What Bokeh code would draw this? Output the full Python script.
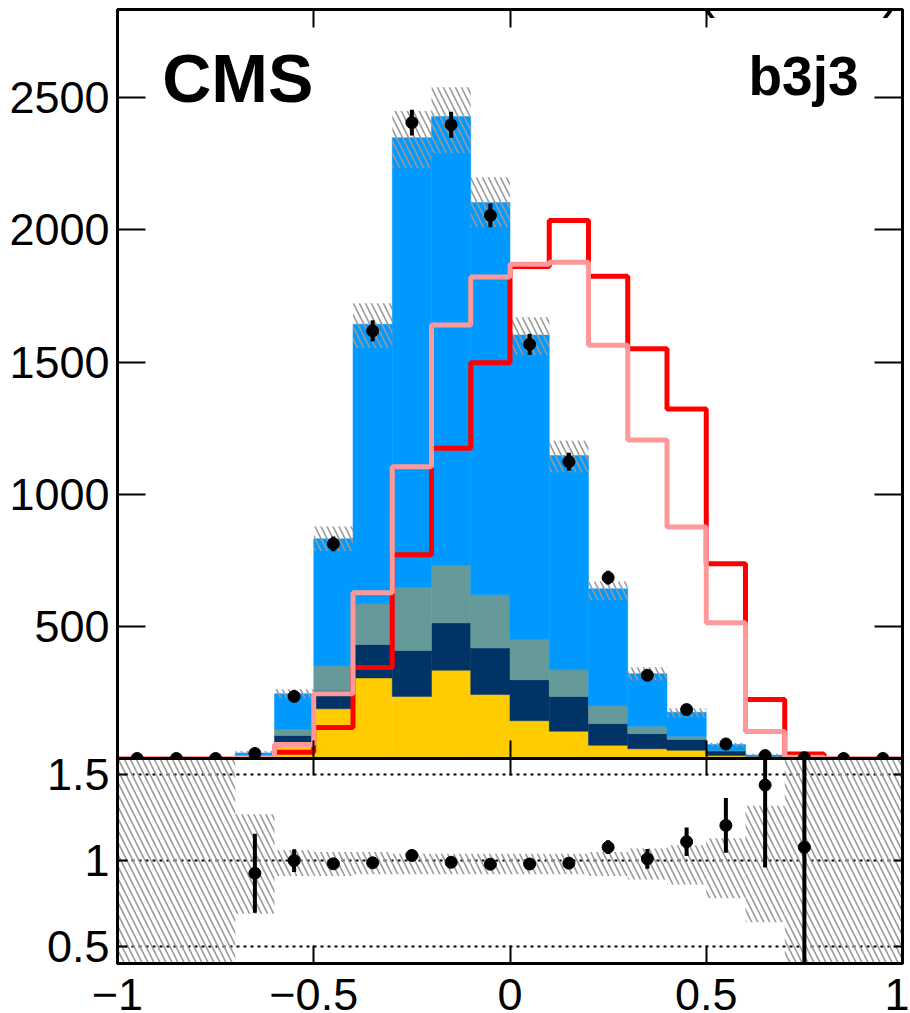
from bokeh.plotting import figure
from bokeh.models import ColumnDataSource, LinearAxis, FixedTicker, Range1d, Label
from bokeh.layouts import column
from bokeh.embed import file_html
from bokeh.resources import INLINE

# ---------------- data ----------------
bin_edges = [-1.0, -0.9, -0.8, -0.7, -0.6, -0.5, -0.4, -0.3, -0.2, -0.1, 0.0,
             0.1, 0.2, 0.3, 0.4, 0.5, 0.6, 0.7, 0.8, 0.9, 1.0]
bin_centers = [-0.95, -0.85, -0.75, -0.65, -0.55, -0.45, -0.35, -0.25, -0.15, -0.05,
               0.05, 0.15, 0.25, 0.35, 0.45, 0.55, 0.65, 0.75, 0.85, 0.95]

# stacked backgrounds, bottom to top
bkg_yellow = [0, 0, 0, 4, 50, 188, 305, 235, 334, 242, 143, 103, 50, 37, 31, 11, 4, 0, 0, 0]
bkg_navy = [0, 0, 0, 3, 37, 69, 126, 174, 179, 176, 155, 132, 82, 57, 41, 17, 3, 0, 0, 0]
bkg_teal = [0, 0, 0, 3, 25, 94, 155, 238, 219, 202, 154, 101, 68, 28, 12, 3, 2, 0, 0, 0]
bkg_blue = [0, 0, 0, 11, 133, 480, 1057, 1702, 1697, 1484, 1150, 810, 442, 199, 91, 22, 4, 1, 0, 0]

# MC uncertainty band (upper panel)
band_lo = [0, 0, 0, 18, 228, 785, 1553, 2233, 2290, 2010, 1526, 1082, 600, 295, 155, 45, 10, 0, 0, 0]
band_hi = [0, 0, 0, 28, 262, 878, 1723, 2450, 2540, 2199, 1670, 1202, 670, 345, 190, 60, 18, 0, 0, 0]

# signal shapes
sig_red = [0, 0, 0, 3, 24, 117, 344, 771, 1174, 1497, 1862, 2036, 1825, 1550, 1322, 737, 223, 17, 0, 0]
sig_pink = [0, 0, 0, 3, 53, 245, 627, 1104, 1640, 1822, 1870, 1878, 1564, 1205, 876, 514, 102, 5, 0, 0]

# observed data
data_obs = [0, 0, 0, 19, 235, 812, 1618, 2406, 2398, 2055, 1567, 1123, 684, 315, 185, 55, 11, 3, 0, 0]
data_err = [0, 0, 0, 4, 15, 28, 40, 49, 49, 45, 40, 34, 26, 18, 14, 7, 3, 2, 0, 0]

# ratio panel
ratio_x = [-0.65, -0.55, -0.45, -0.35, -0.25, -0.15, -0.05, 0.05, 0.15, 0.25,
           0.35, 0.45, 0.55, 0.65, 0.75]
ratio_val = [0.926, 1.00, 0.981, 0.987, 1.03, 0.99, 0.979, 0.98, 0.985, 1.078,
             1.01, 1.11, 1.205, 1.44, 1.078]
ratio_err = [0.23, 0.066, 0.03, 0.025, 0.025, 0.025, 0.025, 0.03, 0.03, 0.04,
             0.057, 0.083, 0.16, 0.48, 1.3]
ratio_band_lo = [0.0, 0.0, 0.0, 0.69, 0.91, 0.91, 0.92, 0.92, 0.92, 0.92,
                 0.92, 0.92, 0.91, 0.89, 0.86, 0.78, 0.64, 0.0, 0.0, 0.0]
ratio_band_hi = [3.0, 3.0, 3.0, 1.27, 1.06, 1.05, 1.05, 1.04, 1.04, 1.04,
                 1.04, 1.04, 1.05, 1.07, 1.09, 1.13, 1.32, 3.0, 3.0, 3.0]

x_ticks = [-1.0, -0.5, 0.0, 0.5, 1.0]
x_tick_labels = ["\u22121", "\u22120.5", "0", "0.5", "1"]
y_ticks_top = [500, 1000, 1500, 2000, 2500]
y_ticks_ratio = [0.5, 1.0, 1.5]
y_ticks_ratio_labels = ["0.5", "1", "1.5"]

COL_YELLOW = "#FFCC00"
COL_NAVY = "#003366"
COL_TEAL = "#669999"
COL_BLUE = "#0099FF"
COL_RED = "#FF0000"
COL_PINK = "#FF9999"
HATCH = "#999999"
FONT = "Liberation Sans"
LABEL_SIZE = "45px"


def style_axis(ax, ticks, tick_len, labels=None, standoff=8):
    ax.ticker = FixedTicker(ticks=ticks)
    ax.major_tick_in = tick_len
    ax.major_tick_out = 0
    ax.minor_tick_line_color = None
    ax.axis_line_color = "black"
    ax.axis_line_width = 3
    ax.major_tick_line_color = "black"
    ax.major_tick_line_width = 2
    if labels is None:
        ax.major_label_text_font_size = "0px"
        ax.major_label_standoff = 0
        ax.major_label_text_alpha = 0
    else:
        ax.major_label_overrides = {t: l for t, l in zip(ticks, labels)}
        ax.major_label_text_font = FONT
        ax.major_label_text_font_size = LABEL_SIZE
        ax.major_label_text_color = "black"
        ax.major_label_standoff = standoff


# ---------------- upper panel ----------------
p1 = figure(frame_width=785, frame_height=750, x_range=Range1d(-1, 1),
            y_range=Range1d(0, 2834), output_backend="svg", toolbar_location=None,
            min_border_left=117, min_border_right=7, min_border_top=9,
            min_border_bottom=0)
p1.grid.visible = False
p1.outline_line_color = "black"
p1.outline_line_width = 3
p1.background_fill_color = "white"
p1.border_fill_color = "white"

stack_src = ColumnDataSource(dict(x=bin_centers, yellow=bkg_yellow, navy=bkg_navy,
                                  teal=bkg_teal, blue=bkg_blue))
p1.vbar_stack(["yellow", "navy", "teal", "blue"], x="x", width=0.1,
              color=[COL_YELLOW, COL_NAVY, COL_TEAL, COL_BLUE], line_width=0.5,
              source=stack_src)

p1.quad(left=bin_edges[:-1], right=bin_edges[1:], bottom=band_lo, top=band_hi,
        fill_color=None, line_color=None, hatch_pattern="left_diagonal_line",
        hatch_color=HATCH, hatch_weight=1.6, hatch_scale=12)

p1.step(x=bin_edges, y=sig_red + [sig_red[-1]], mode="after",
        line_color=COL_RED, line_width=5)
p1.step(x=bin_edges, y=sig_pink + [sig_pink[-1]], mode="after",
        line_color=COL_PINK, line_width=5)

err_src = ColumnDataSource(dict(
    x=[c for c, d in zip(bin_centers, data_obs) if d > 0],
    lo=[d - e for d, e in zip(data_obs, data_err) if d > 0],
    hi=[d + e for d, e in zip(data_obs, data_err) if d > 0]))
p1.segment(x0="x", y0="lo", x1="x", y1="hi", line_width=4, line_color="black",
           source=err_src)
p1.scatter(x=bin_centers, y=data_obs, size=12, color="black")

style_axis(p1.yaxis[0], y_ticks_top, 28,
           labels=[str(t) for t in y_ticks_top], standoff=8)
style_axis(p1.xaxis[0], x_ticks, 18)
ax_r = LinearAxis()
style_axis(ax_r, y_ticks_top, 28)
p1.add_layout(ax_r, "right")
ax_t = LinearAxis()
style_axis(ax_t, x_ticks, 18)
p1.add_layout(ax_t, "above")

p1.add_layout(Label(x=-0.886, y=2576, text="CMS", text_font=FONT,
                    text_font_style="bold", text_font_size="68px",
                    text_baseline="alphabetic", text_color="black"))
p1.add_layout(Label(x=0.888, y=2584, text="b3j3", text_font=FONT,
                    text_font_style="bold", text_font_size="55px",
                    text_align="right", text_baseline="alphabetic",
                    text_color="black"))
# luminosity label above the frame (only the bottom of it is inside the page)
p1.add_layout(Label(x=0.997, y=2916, text="138 fb\u207b\u00b9 (13 TeV)", text_font=FONT,
                    text_font_size="54px", text_align="right",
                    text_baseline="alphabetic", text_color="black"))

# ---------------- ratio panel ----------------
p2 = figure(frame_width=785, frame_height=206, x_range=p1.x_range,
            y_range=Range1d(0.4, 1.595), output_backend="svg",
            toolbar_location=None, min_border_left=117, min_border_right=7,
            min_border_top=0, min_border_bottom=0)
p2.xgrid.visible = False
p2.ygrid.ticker = FixedTicker(ticks=y_ticks_ratio)
p2.ygrid.grid_line_color = "black"
p2.ygrid.grid_line_width = 2
p2.ygrid.grid_line_dash = "3 4"
p2.outline_line_color = "black"
p2.outline_line_width = 3
p2.background_fill_color = "white"
p2.border_fill_color = "white"

p2.quad(left=bin_edges[:-1], right=bin_edges[1:], bottom=ratio_band_lo,
        top=ratio_band_hi, fill_color=None, line_color=None,
        hatch_pattern="left_diagonal_line", hatch_color=HATCH, hatch_weight=1.6,
        hatch_scale=12)

rsrc = ColumnDataSource(dict(x=ratio_x, y=ratio_val,
                             lo=[v - e for v, e in zip(ratio_val, ratio_err)],
                             hi=[v + e for v, e in zip(ratio_val, ratio_err)]))
p2.segment(x0="x", y0="lo", x1="x", y1="hi", line_width=4, line_color="black",
           source=rsrc)
p2.scatter(x="x", y="y", size=12, color="black", source=rsrc)

style_axis(p2.yaxis[0], y_ticks_ratio, 10, labels=y_ticks_ratio_labels, standoff=8)
style_axis(p2.xaxis[0], x_ticks, 18, labels=x_tick_labels, standoff=15)
ax_r2 = LinearAxis()
style_axis(ax_r2, y_ticks_ratio, 9)
p2.add_layout(ax_r2, "right")
ax_t2 = LinearAxis()
style_axis(ax_t2, x_ticks, 17)
p2.add_layout(ax_t2, "above")

layout = column(p1, p2, spacing=0, styles={"overflow": "hidden", "max-height": "1013px"})
open("out.html", "w").write(file_html(layout, INLINE))
